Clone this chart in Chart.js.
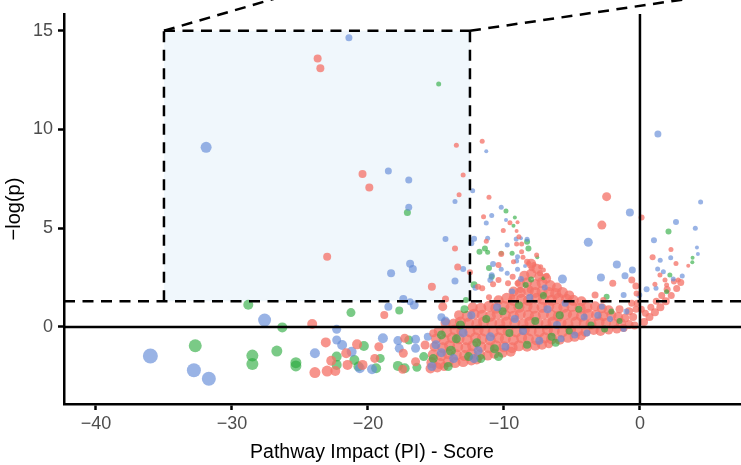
<!DOCTYPE html>
<html lang="en">
<head>
<meta charset="UTF-8">
<title>Pathway impact</title>
<script src="https://cdn.jsdelivr.net/npm/chart.js"></script>
<style>
  html, body { margin: 0; padding: 0; background: #fff; }
  canvas { display: block; }
</style>
</head>
<body>
<canvas id="piChart" width="741" height="465"></canvas>
<script>
const xTicks = [-40, -30, -20, -10, 0];
const yTicks = [0, 5, 10, 15];
const xRange = [-42.35, 7.43];
const yRange = [-3.9, 15.85];
const pThreshold = 1.301; // -log10(0.05)
const zoomBox = { x0: -35, x1: -12.5, y0: 1.301, y1: 15 };
const zoomLinks = [[-35, 15, -19.4, 18.12], [-12.5, 15, 18.4, 18.12]];

// every point is [x, y, radius in px]
const redMass = [
  [-8.0,3.2,5],[-7.6,2.95,5],
  [-8.5,2.6,5],[-8.0,2.7,5],[-7.4,2.55,5],[-6.9,2.45,5],
  [-8.8,2.2,5],[-8.3,2.25,5],[-7.7,2.15,5.5],[-7.2,2.25,5.5],[-6.6,2.1,5.5],[-6.1,2.0,5],
  [-9.3,1.8,5],[-8.8,1.75,5.5],[-8.2,1.85,5.5],[-7.7,1.75,5.5],[-7.2,1.8,5.5],[-6.7,1.75,5.5],[-6.2,1.7,5.5],[-5.7,1.75,5.5],[-5.2,1.6,5],
  [-10.4,1.35,5],[-9.8,1.45,5.5],[-9.3,1.35,5.5],[-8.7,1.4,5.5],[-8.2,1.35,5.5],[-7.6,1.45,5.5],[-7.1,1.4,5.5],[-6.5,1.35,5.5],[-6.0,1.45,5.5],[-5.4,1.4,5.5],[-4.9,1.35,5.5],[-4.3,1.3,5],
  [-12.3,1.0,5],[-11.7,0.95,5.5],[-11.1,1.05,5.5],[-10.6,0.95,5.5],[-10.0,1.05,5.5],[-9.5,0.95,5.5],[-8.9,1.0,5.5],[-8.3,1.05,5.5],[-7.8,0.95,5.5],[-7.2,1.0,5.5],[-6.7,1.05,5.5],[-6.1,0.95,5.5],[-5.6,1.0,5.5],[-5.0,1.05,5.5],[-4.4,0.95,5.5],[-3.9,1.0,5.5],[-3.3,1.05,5],[-2.8,0.95,5],[-2.3,0.85,5],
  [-13.3,0.6,5],[-12.7,0.55,5.5],[-12.2,0.65,5.5],[-11.6,0.6,5.5],[-11.0,0.55,5.5],[-10.5,0.65,5.5],[-9.9,0.6,5.5],[-9.3,0.55,5.5],[-8.8,0.65,5.5],[-8.2,0.6,5.5],[-7.7,0.55,5.5],[-7.1,0.65,5.5],[-6.5,0.6,5.5],[-6.0,0.55,5.5],[-5.4,0.65,5.5],[-4.9,0.6,5.5],[-4.3,0.55,5.5],[-3.8,0.65,5.5],[-3.2,0.6,5.5],[-2.7,0.55,5],[-2.1,0.6,5],[-1.6,0.5,5],[-1.1,0.45,4.5],
  [-14.3,0.2,5],[-13.7,0.15,5.5],[-13.2,0.25,5.5],[-12.6,0.2,5.5],[-12.0,0.15,5.5],[-11.5,0.25,5.5],[-10.9,0.2,5.5],[-10.3,0.15,5.5],[-9.8,0.25,5.5],[-9.2,0.2,5.5],[-8.6,0.15,5.5],[-8.1,0.25,5.5],[-7.5,0.2,5.5],[-6.9,0.15,5.5],[-6.4,0.25,5.5],[-5.8,0.2,5.5],[-5.3,0.15,5.5],[-4.7,0.25,5.5],[-4.1,0.2,5.5],[-3.6,0.15,5.5],[-3.0,0.25,5.5],[-2.5,0.2,5],[-1.9,0.15,5],[-1.4,0.2,5],[-0.8,0.12,4.5],[-0.4,0.08,4],
  [-14.8,-0.2,5],[-14.2,-0.25,5.5],[-13.6,-0.15,5.5],[-13.1,-0.2,5.5],[-12.5,-0.25,5.5],[-11.9,-0.15,5.5],[-11.4,-0.2,5.5],[-10.8,-0.25,5.5],[-10.2,-0.15,5.5],[-9.7,-0.2,5.5],[-9.1,-0.25,5.5],[-8.5,-0.15,5.5],[-8.0,-0.2,5.5],[-7.4,-0.25,5.5],[-6.8,-0.15,5.5],[-6.3,-0.2,5.5],[-5.7,-0.25,5.5],[-5.1,-0.15,5.5],[-4.6,-0.2,5.5],[-4.0,-0.25,5],[-3.4,-0.15,5],[-2.9,-0.2,5],[-2.3,-0.15,4.5],[-1.7,-0.1,4.5],[-1.2,-0.05,4],
  [-15.0,-0.6,5],[-14.4,-0.65,5.5],[-13.8,-0.55,5.5],[-13.3,-0.6,5.5],[-12.7,-0.65,5.5],[-12.1,-0.55,5.5],[-11.6,-0.6,5.5],[-11.0,-0.65,5.5],[-10.4,-0.55,5.5],[-9.9,-0.6,5.5],[-9.3,-0.65,5.5],[-8.7,-0.55,5.5],[-8.2,-0.6,5.5],[-7.6,-0.65,5.5],[-7.0,-0.55,5.5],[-6.5,-0.6,5.5],[-5.9,-0.65,5],[-5.3,-0.55,5],[-4.8,-0.5,5],[-4.3,-0.45,4.5],
  [-15.1,-1.0,5],[-14.5,-1.05,5.5],[-14.0,-0.95,5.5],[-13.4,-1.0,5.5],[-12.8,-1.05,5.5],[-12.3,-0.95,5.5],[-11.7,-1.0,5.5],[-11.1,-1.05,5.5],[-10.6,-0.95,5.5],[-10.0,-1.0,5.5],[-9.4,-1.05,5.5],[-8.9,-0.95,5.5],[-8.3,-1.0,5],[-7.7,-0.95,5],[-7.2,-0.9,5],[-6.7,-0.85,4.5],
  [-15.2,-1.4,5.5],[-14.6,-1.45,5.5],[-14.1,-1.35,5.5],[-13.5,-1.4,5.5],[-12.9,-1.45,5.5],[-12.4,-1.35,5.5],[-11.8,-1.4,5.5],[-11.2,-1.45,5],[-10.7,-1.35,5],[-10.1,-1.3,5],[-9.5,-1.25,5],
  [-15.3,-1.8,5.5],[-14.7,-1.85,5.5],[-14.1,-1.75,5.5],[-13.6,-1.8,5.5],[-13.0,-1.75,5.5],[-12.4,-1.7,5],[-12.0,-1.65,5],
  [-15.4,-2.1,5],[-14.9,-2.05,5],[-14.4,-2.0,4.5],
  [-0.5,0.5,4],[-0.3,0.9,3.5],[-0.8,0.8,4],[-0.2,1.2,3.5],[-1.5,0.9,4],[-0.6,1.2,3.5],
  [0.3,0.25,4],[0.7,0.5,4],[1.1,0.75,4],[1.5,1.0,4],[1.9,1.3,4],[2.3,1.6,3.5],[2.7,1.95,3.5],[3.0,2.25,3.5],
  [0.4,0.7,3.5],[0.8,1.0,3.5],[1.2,1.3,3.5],[1.6,1.6,3.5],[2.0,1.9,3.5],[0.1,0.9,3.5],[2.5,2.3,3]
];

const greenMass = [
  [-14.6,-0.4,4.5],[-13.9,-1.2,5],[-13.2,0.1,4.5],[-12.6,-1.5,4.5],[-12.0,-0.8,4.5],[-11.3,0.4,4],[-10.7,-1.1,4.5],
  [-10.1,0.8,4],[-9.6,-0.3,4],[-8.9,1.1,4],[-8.3,-0.9,4],[-7.7,0.3,4],[-7.1,1.6,3.5],[-6.5,-0.5,4],[-5.9,0.6,4],
  [-5.2,-0.2,3.5],[-4.5,0.9,3.5],[-3.6,0.1,3.5],[-2.6,-0.1,3.5],[-1.5,0.3,3],[-15.2,-1.6,4.5],[-14.1,-2.0,4.5],
  [-12.9,0.9,4],[-10.4,-1.5,4.5],[-8.0,2.4,3],[-6.2,-0.8,4],[-13.5,-0.6,4.5],[-11.7,-1.6,4.5]
];

const blueMass = [
  [-15.0,-0.9,4.5],[-14.3,0.3,4.5],[-13.7,-1.6,4.5],[-13.0,-0.3,4.5],[-12.4,0.6,4],[-11.9,-1.2,4.5],[-11.0,-0.5,4.5],
  [-10.5,1.0,4],[-9.9,-1.0,4],[-9.2,0.4,4],[-8.6,-0.2,4],[-8.1,1.5,3.5],[-7.4,-0.7,4],[-6.8,0.9,4],[-6.1,0.1,4],
  [-5.5,1.2,3.5],[-4.8,-0.4,3.5],[-4.1,0.5,3.5],[-3.1,0.6,3.5],[-2.2,0.4,3],[-1.2,-0.1,3],[-15.3,-2.0,4.5],
  [-14.6,-1.3,4.5],[-12.2,-1.6,4.5],[-7.0,2.0,3],[-5.8,-0.6,3.5],[-3.9,-0.3,3.5],[-9.4,1.8,3]
];

const redPoints = [
  [-23.7,13.6,4],[-23.5,13.1,4],[-20.4,7.75,4],[-19.9,7.07,4],[-23.0,3.56,4],
  [-13.5,9.2,2.5],[-11.6,9.4,2.5],[-13.0,7.7,2.5],[-13.3,6.7,2.5],[-11.1,6.57,2.5],[-11.5,5.58,2.5],[-11.3,4.34,2.5],
  [-13.6,3.98,3],[-13.4,3.04,3.5],[-12.5,2.77,3],[-10.4,3.14,3],[-15.3,2.04,4],[-11.9,2.04,3],[-10.8,2.16,3],[-14.3,1.42,3.5],[-11.1,1.5,3],
  [-9.56,5.28,2.5],[-9.0,5.3,2],[-10.05,4.88,2.5],[-9.07,4.86,2],[-8.7,4.2,2.5],[-10.2,3.7,3],[-8.7,3.81,2.5],[-7.6,3.65,2.5],
  [-8.3,3.3,3],[-9.3,3.3,2.5],[-7.96,2.97,3],[-7.3,3.05,2.5],[-9.36,2.55,3],[-7.35,2.72,3],[-6.86,2.6,3],
  [-2.45,6.6,4.5],[0.12,5.55,3],[-2.8,5.16,4.5],[-0.6,2.38,3.5],[-2.0,2.21,3.5],[-0.3,2.08,3.5],[-3.3,1.62,3.5],[-0.25,1.7,3],[-2.7,1.37,3],
  [2.28,3.93,2.5],[3.55,3.1,2],[0.93,3.53,3],[2.65,3.22,2.5],[1.47,2.63,2.5],[1.84,2.38,2.5],[2.82,2.38,2.5],[1.1,2.16,2.5],[1.96,2.13,2.5],
  [-8.9,4.57,2.5],[-9.07,4.2,2.5],[-8.6,3.53,2.5],[-8.16,3.22,2.5],[-7.8,3.17,2.5],[-7.1,2.89,2.5],[-10.4,2.38,3],[-9.7,2.21,3],
  [-9.0,2.21,3],[-11.6,1.96,3],[-8.8,1.87,3],[-8.1,1.87,3],[-9.4,1.53,3],
  [-24.1,0.15,5],[-23.1,-0.78,5],[-20.8,-0.88,5],[-21.6,-1.33,5],[-22.7,-1.71,5],[-21.5,-1.92,5],[-20.4,-1.92,5],
  [-23.9,-2.31,5.5],[-23.0,-2.23,5.5],[-22.4,-2.23,5],[-19.5,-1.59,4.5],[-19.2,-1.0,4.5],[-18.8,0.61,4],[-14.5,1.03,4.5],
  [-17.3,-0.57,4.5],[-17.4,-1.33,4.5],[-17.45,-2.14,4.5],[-16.5,-1.76,4.5],[-15.8,-0.91,4.5],[-15.2,-0.32,4]
];

const greenPoints = [
  [-14.8,12.3,2.5],[-17.1,5.8,3.5],[-11.4,3.98,3],[-11.8,3.81,3],[-11.2,3.78,2.5],[-11.1,2.99,3],[-10.9,2.55,3],[-12.2,2.14,3.5],[-12.8,1.37,3],
  [-9.85,5.87,2.5],[-9.2,5.55,2],[-9.3,5.13,2],[-8.3,4.32,3],[-8.2,3.98,3],[-9.4,3.73,2.5],[-7.55,3.53,2],[-10.2,3.73,2.5],[-7.1,2.47,2],[-8.4,2.13,3],
  [-2.45,1.53,3],[-2.1,0.78,3],
  [2.1,4.83,3],[3.87,3.51,2],[3.85,3.28,2],[2.2,2.63,2.5],[1.96,1.79,2.5],
  [-32.7,-0.95,6.5],[-28.5,-1.45,6],[-28.5,-1.87,6],[-28.8,1.13,5],[-26.3,-0.02,5],[-21.25,0.73,4.5],[-26.7,-1.22,5.5],
  [-25.3,-1.81,5.5],[-25.3,-1.97,5.5],[-20.3,-0.96,5],[-22.3,-1.5,5],[-21.0,-1.67,5],[-22.3,-1.92,5],[-20.7,-2.0,5],
  [-19.4,-2.09,5],[-19.1,-1.59,4.5],[-17.7,0.83,4],[-17.0,-0.66,4.5],[-17.8,-1.97,5],[-17.3,-2.09,5],[-16.4,-2.04,4.5],[-15.9,-1.5,4.5]
];

const bluePoints = [
  [-21.4,14.65,3.5],[-31.9,9.1,5.5],[-11.3,8.9,2],[-18.5,7.9,3.5],[-17.0,7.44,3.5],[-13.6,6.35,2.5],[-12.3,6.9,2.5],[-17.0,6.06,3.5],
  [-10.9,5.64,2.5],[-11.3,5.27,2.5],[-14.3,4.46,3],[-12.2,4.47,3],[-12.4,4.24,3],[-11.2,4.49,2.5],[-16.9,3.2,4],[-16.7,2.94,4],
  [-18.3,2.72,4],[-13.0,2.94,3],[-10.8,3.19,3],[-10.9,2.62,3],[-13.6,2.33,3.5],[-12.1,1.99,3],[-17.4,1.42,4],[-16.9,1.28,3.5],
  [-10.2,6.06,2.5],[-9.85,5.42,2],[-9.1,4.46,2.5],[-8.75,4.49,2],[-9.76,4.15,2.5],[-9.0,3.56,2.5],[-10.2,2.92,2.5],[-9.0,2.92,2.5],
  [-8.45,3.09,2],[-9.76,2.72,2.5],[-8.75,2.43,3],[-5.7,2.43,4.5],[-3.8,4.29,4.5],[-0.74,5.8,4],[-1.7,3.17,4],[-2.87,2.5,4],
  [-1.1,2.6,3.5],[-0.56,2.89,3.5],[0.49,1.91,3],[-1.2,1.62,3],[-0.05,1.62,3],[-2.8,1.03,3],[-1.0,0.78,3],
  [1.32,9.77,3.5],[4.46,6.33,2.5],[2.65,5.32,3],[4.07,5.0,2.5],[1.03,4.39,3],[4.19,4.02,2],[4.26,3.7,2],[2.26,3.51,2.5],
  [1.49,3.38,2.5],[1.3,2.94,2.5],[1.72,2.8,2.5],[3.11,2.58,2.5],[2.45,2.43,2.5],[1.18,1.96,2.5],
  [-8.3,4.44,2.5],[-9.07,3.34,2.5],[-11.0,2.38,3],
  [-36.0,-1.47,7.5],[-32.8,-2.19,7],[-31.7,-2.62,7],[-27.6,0.35,6.5],[-22.3,-0.12,4.5],[-22.3,-0.66,4.5],[-23.9,-1.33,5],
  [-21.9,-0.91,5],[-21.2,-1.25,5],[-20.6,-2.09,5],[-19.7,-2.14,5],[-18.9,-0.57,5],[-18.5,1.03,4],[-16.6,1.11,4.5],
  [-14.6,0.49,4],[-17.8,-0.69,4.5],[-16.5,-0.62,4.5],[-17.7,-1.08,4.5],[-16.5,-1.08,4.5],[-15.6,-0.49,4]
];

const RED = 'rgba(244,114,104,0.76)';
const GREEN = 'rgba(40,170,60,0.62)';
const BLUE = 'rgba(100,140,215,0.66)';
const FONT = '"Liberation Sans", Arial, sans-serif';

function toBubbles(arr) {
  return arr.map(([x, y, r]) => ({ x, y, r }));
}

function fmtTick(v) {
  return v < 0 ? '\u2212' + Math.abs(v) : String(v);
}

// box, reference lines and x title
const overlay = {
  id: 'overlay',
  beforeDatasetsDraw(chart) {
    const { ctx, scales: { x, y } } = chart;
    ctx.save();
    ctx.fillStyle = '#F0F7FC';
    const left = x.getPixelForValue(zoomBox.x0), right = x.getPixelForValue(zoomBox.x1);
    const top = y.getPixelForValue(zoomBox.y1), bottom = y.getPixelForValue(zoomBox.y0);
    ctx.fillRect(left, top, right - left, bottom - top);
    ctx.restore();
  },
  afterDatasetsDraw(chart) {
    const { ctx, chartArea, scales: { x, y } } = chart;
    const line = (x0, y0, x1, y1) => {
      ctx.beginPath();
      ctx.moveTo(x0, y0);
      ctx.lineTo(x1, y1);
      ctx.stroke();
    };
    ctx.save();
    ctx.strokeStyle = '#000';
    ctx.lineWidth = 2.5;

    // solid zero lines
    line(chartArea.left, y.getPixelForValue(0), chartArea.right, y.getPixelForValue(0));
    line(x.getPixelForValue(0), chartArea.top, x.getPixelForValue(0), chartArea.bottom);

    // dashed threshold + zoom box
    ctx.setLineDash([11, 7.5]);
    const ty = y.getPixelForValue(pThreshold);
    line(chartArea.left, ty, chartArea.right, ty);
    const bx0 = x.getPixelForValue(zoomBox.x0), bx1 = x.getPixelForValue(zoomBox.x1);
    const by1 = y.getPixelForValue(zoomBox.y1);
    line(bx0, ty, bx0, by1);
    line(bx1, ty, bx1, by1);
    line(bx0, by1, bx1, by1);
    zoomLinks.forEach(([ax, ay, bx, by]) => {
      line(x.getPixelForValue(ax), y.getPixelForValue(ay), x.getPixelForValue(bx), y.getPixelForValue(by));
    });
    ctx.restore();
  },
  afterDraw(chart) {
    const { ctx } = chart;
    ctx.save();
    ctx.fillStyle = '#000';
    ctx.font = '19.5px ' + FONT;
    ctx.textAlign = 'center';
    ctx.textBaseline = 'alphabetic';
    ctx.fillText('Pathway Impact (PI) - Score', 372, 458);
    ctx.restore();
  }
};

const axisCommon = {
  type: 'linear',
  grid: { display: true, drawOnChartArea: false, drawTicks: true, tickLength: 6, tickWidth: 2.5, tickColor: '#000' },
  border: { display: true, color: '#000', width: 2.5 }
};

new Chart(document.getElementById('piChart'), {
  type: 'bubble',
  data: {
    datasets: [
      { label: 'red', data: toBubbles(redPoints), backgroundColor: RED, order: 0 },
      { label: 'blue', data: toBubbles(bluePoints), backgroundColor: BLUE, order: 1 },
      { label: 'green', data: toBubbles(greenPoints), backgroundColor: GREEN, order: 2 },
      { label: 'blueMass', data: toBubbles(blueMass), backgroundColor: BLUE, order: 3 },
      { label: 'greenMass', data: toBubbles(greenMass), backgroundColor: GREEN, order: 4 },
      { label: 'redMass', data: toBubbles(redMass), backgroundColor: RED, order: 5 }
    ]
  },
  options: {
    responsive: false,
    animation: false,
    events: [],
    layout: { autoPadding: false, padding: { top: 14, right: 0, left: 0, bottom: 0 } },
    elements: { point: { borderWidth: 0, hoverBorderWidth: 0 } },
    plugins: { legend: { display: false }, tooltip: { enabled: false } },
    scales: {
      x: {
        ...axisCommon,
        min: xRange[0],
        max: xRange[1],
        afterBuildTicks: s => { s.ticks = xTicks.map(v => ({ value: v })); },
        afterFit: s => { s.height = 61; s.paddingLeft = 0; s.paddingRight = 0; },
        ticks: { callback: fmtTick, color: '#4d4d4d', font: { family: FONT, size: 18 }, padding: 3, maxRotation: 0, autoSkip: false },
        title: { display: false }
      },
      y: {
        ...axisCommon,
        min: yRange[0],
        max: yRange[1],
        afterBuildTicks: s => { s.ticks = yTicks.map(v => ({ value: v })); },
        afterFit: s => { s.width = 64; s.paddingTop = 0; s.paddingBottom = 0; },
        ticks: { callback: fmtTick, color: '#4d4d4d', font: { family: FONT, size: 18 }, padding: 5, autoSkip: false },
        title: { display: true, text: '\u2212log(p)', color: '#000', font: { family: FONT, size: 20 }, padding: { top: 2, bottom: 2 } }
      }
    }
  },
  plugins: [overlay]
});
</script>
</body>
</html>
